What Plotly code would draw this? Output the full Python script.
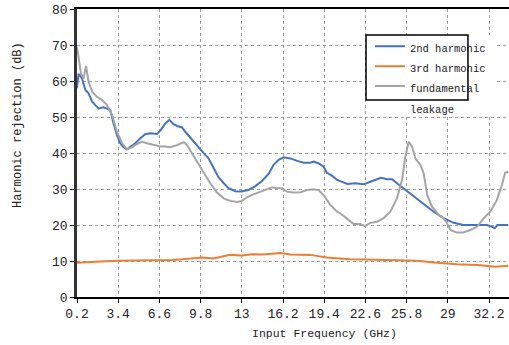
import plotly.graph_objects as go

# Harmonic rejection versus input frequency
freq_2nd = [0.2, 0.32, 0.59, 0.85, 1.1, 1.37, 1.62, 1.88, 2.27, 2.65, 2.79, 3.04, 3.3, 3.56,
            3.82, 4.08, 4.34, 4.73, 5.12, 5.5, 5.9, 6.41, 6.67, 7.06, 7.37, 7.7, 7.97, 8.36,
            8.61, 9.0, 9.52, 10.0, 10.4, 10.8, 11.2, 11.6, 11.97, 12.5, 13.0, 13.5, 14.05,
            14.57, 15.1, 15.47, 15.86, 16.25, 16.77, 17.3, 17.8, 18.3, 18.6, 18.97, 19.35,
            19.6, 20.0, 20.4, 20.65, 21.2, 21.8, 22.46, 22.98, 23.37, 23.8, 24.28, 24.67,
            25.05, 25.57, 26.34, 27.12, 27.9, 28.67, 29.45, 30.2, 31.0, 32.05, 32.45, 32.64,
            32.85, 33.7]
rej_2nd = [58.0, 62.0, 60.7, 57.5, 56.6, 54.3, 53.3, 52.4, 52.7, 52.2, 51.9, 48.2, 45.0, 42.7,
           41.6, 41.0, 41.6, 42.7, 44.1, 45.2, 45.5, 45.3, 46.2, 48.2, 49.2, 48.0, 47.5, 47.1,
           45.9, 44.2, 42.0, 40.1, 38.6, 35.7, 33.2, 31.6, 30.2, 29.4, 29.3, 29.7, 30.8,
           32.2, 34.3, 36.7, 38.1, 38.8, 38.5, 37.8, 37.3, 37.3, 37.6, 37.1, 36.2,
           34.5, 33.7, 32.5, 32.1, 31.4, 31.6, 31.3, 32.0, 32.5, 33.1, 32.7, 32.7,
           31.6, 30.2, 27.9, 26.0, 23.7, 21.9, 20.6, 20.0, 20.0, 20.0, 19.5, 19.1,
           20.0, 20.0]

freq_3rd = [0.2, 1.3, 2.4, 3.4, 5.0, 6.6, 7.6, 8.4, 9.9, 10.8, 11.4, 12.1, 13.0, 13.8, 14.6,
            15.3, 16.0, 16.8, 17.5, 18.3, 19.6, 21.4, 22.6, 24.0, 25.8, 26.6, 28.2, 29.7,
            31.3, 32.7, 33.7]
rej_3rd = [9.5, 9.8, 9.9, 10.1, 10.1, 10.3, 10.3, 10.5, 11.0, 10.7, 11.1, 11.7, 11.5, 11.9, 11.8,
           11.9, 12.2, 11.8, 11.7, 11.7, 11.0, 10.5, 10.4, 10.3, 10.2, 10.1, 9.5, 9.1,
           8.9, 8.4, 8.7]

freq_fund = [0.2, 0.32, 0.51, 0.71, 0.9, 1.1, 1.37, 1.75, 2.14, 2.53, 2.92, 3.3, 3.7, 4.08,
             4.47, 4.86, 5.25, 5.64, 6.15, 6.67, 7.06, 7.45, 7.97, 8.5, 8.74, 9.13, 9.52,
             10.0, 10.55, 11.07, 11.59, 12.1, 12.63, 13.0, 13.4, 13.9, 14.44, 14.96, 15.35,
             15.7, 16.12, 16.5, 17.0, 17.55, 18.06, 18.6, 18.97, 19.35, 19.87, 20.4, 20.65,
             21.2, 21.68, 22.2, 22.54, 22.98, 23.5, 24.0, 24.53, 25.05, 25.44, 25.7, 25.96,
             26.22, 26.48, 26.87, 27.12, 27.4, 27.77, 28.3, 28.67, 28.94, 29.2, 29.7, 30.2,
             30.75, 31.27, 31.8, 32.3, 32.8, 33.2, 33.45, 33.7]
rej_fund = [69.5, 66.3, 62.1, 60.7, 64.2, 59.8, 57.0, 55.6, 54.7, 53.3, 50.6, 45.9, 42.7, 41.0,
            41.6, 42.5, 43.1, 42.7, 42.2, 41.8, 41.8, 41.6, 42.2, 43.0, 42.2, 39.9, 37.6,
            34.8, 31.6, 29.0, 27.4, 26.7, 26.4, 26.7, 27.7, 28.5, 29.3, 29.9, 30.5,
            30.2, 30.2, 29.3, 29.0, 29.1, 29.7, 29.9, 29.7, 28.3, 25.6, 23.7, 23.2,
            21.7, 20.3, 20.3, 19.7, 20.6, 20.9, 21.9, 23.7, 27.4, 32.5, 39.0, 43.1,
            41.8, 38.5, 36.7, 34.4, 28.3, 25.1, 22.8, 21.9, 20.5, 18.6, 17.9, 17.9,
            18.6, 19.5, 21.9, 23.7, 26.9, 31.1, 34.5, 34.8]

x_ticks = [0.2, 3.4, 6.6, 9.8, 13, 16.2, 19.4, 22.6, 25.8, 29, 32.2]
x_tick_text = ["0.2", "3.4", "6.6", "9.8", "13", "16.2", "19.4", "22.6", "25.8", "29", "32.2"]

FONT = "Liberation Mono, Courier New, monospace"
LEG_SIZE = 10.5


def small(text):
    return f"<span style='font-size:{LEG_SIZE}px'>{text}</span>"


# the two-line entry sits in its own legend so its line spacing can be wider
series = [
    ("2nd harmonic", freq_2nd, rej_2nd, "#4472C4", "legend"),
    ("3rd harmonic", freq_3rd, rej_3rd, "#ED7D31", "legend"),
    (small("fundamental") + "<br>" + small("leakage"), freq_fund, rej_fund, "#A5A5A5", "legend2"),
]

fig = go.Figure()
for i, (name, xs, ys, color, leg) in enumerate(series):
    fig.add_trace(go.Scatter(x=xs, y=ys, mode="lines", name=name, legendgroup=f"g{i}",
                             legend=leg, line=dict(color=color, width=2)))

grid = dict(showgrid=True, gridcolor="#9a9a9a", gridwidth=1, griddash="dot")

fig.update_layout(
    width=509, height=345,
    margin=dict(l=77, r=0, t=9, b=48),
    paper_bgcolor="white", plot_bgcolor="white",
    font=dict(family=FONT, size=13, color="#222"),
    showlegend=True,
    legend=dict(x=0.678, y=0.917, xanchor="left", yanchor="top",
                bgcolor="rgba(0,0,0,0)", borderwidth=0, valign="top",
                tracegroupgap=1, font=dict(family=FONT, size=LEG_SIZE, color="#222")),
    legend2=dict(x=0.678, y=0.791, xanchor="left", yanchor="top",
                 bgcolor="rgba(0,0,0,0)", borderwidth=0, valign="top",
                 font=dict(family=FONT, size=16, color="#222")),
    xaxis=dict(range=[0.2, 33.75], tickvals=x_ticks, ticktext=x_tick_text,
               showline=True, linecolor="black", linewidth=1.5, mirror=True,
               ticks="outside", ticklen=4, tickcolor="black", zeroline=False,
               tickfont=dict(family=FONT, size=13, color="#222"), **grid),
    yaxis=dict(range=[0, 80], dtick=10, showline=True, linecolor="#333", linewidth=2.5,
               ticks="outside", ticklen=4, tickcolor="black", zeroline=False,
               tickfont=dict(family=FONT, size=13, color="#222"), **grid),
    shapes=[
        dict(type="rect", xref="paper", yref="paper", x0=0.669, x1=0.97, y0=0.625, y1=0.91,
             fillcolor="white", line=dict(width=0), layer="above"),
        dict(type="rect", xref="paper", yref="paper", x0=0.669, x1=0.905, y0=0.684, y1=0.91,
             fillcolor="rgba(0,0,0,0)", line=dict(color="black", width=1.5), layer="above"),
    ],
    annotations=[
        dict(text="Input Frequency (GHz)", xref="paper", yref="paper", x=0.574, y=-0.125,
             xanchor="center", yanchor="middle", showarrow=False,
             font=dict(family=FONT, size=11.5, color="#222")),
        dict(text="Harmonic rejection (dB)", xref="paper", yref="paper", x=-0.137, y=0.597,
             xanchor="center", yanchor="middle", showarrow=False, textangle=-90,
             font=dict(family=FONT, size=12, color="#222")),
    ],
)

fig.write_html("out.html")
